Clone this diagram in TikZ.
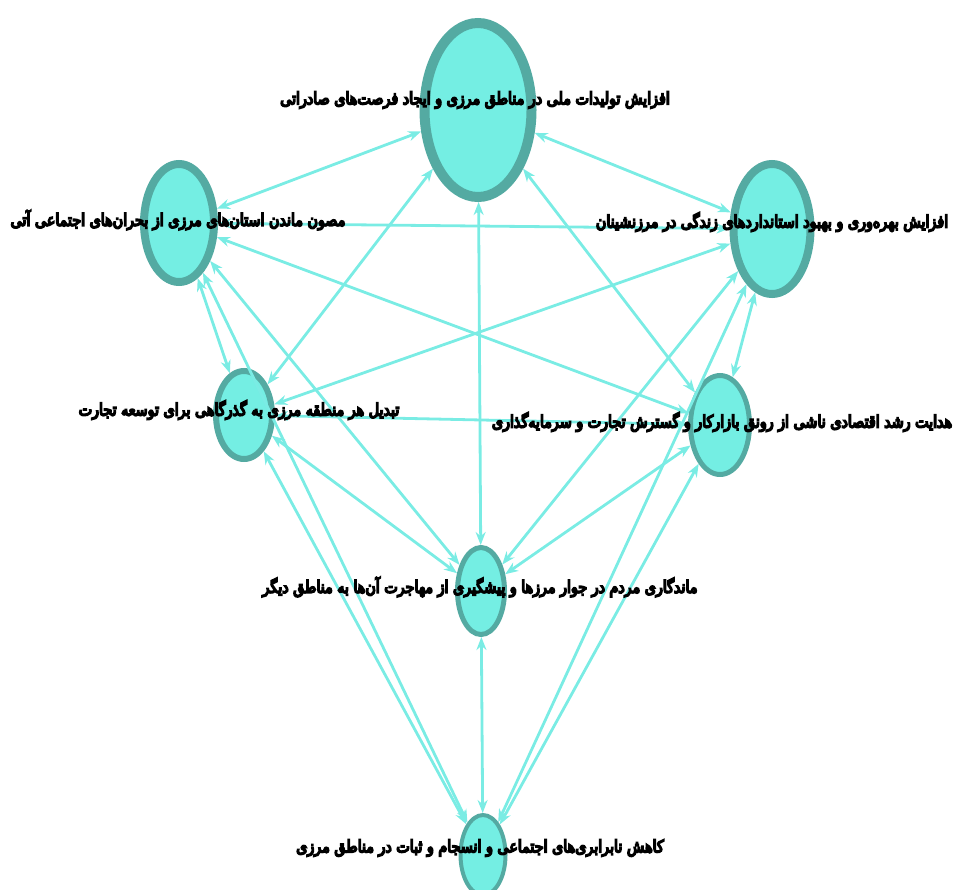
\documentclass[tikz,border=0pt]{standalone}
\usepackage{fontspec}
\usetikzlibrary{positioning,arrows.meta,shapes.geometric}
\TeXXeTstate=1
\newfontfamily\fafont[Script=Arabic, FakeBold=9, FakeStretch=0.84]{DejaVu Sans}
\definecolor{nodefill}{RGB}{116,238,227}
\definecolor{nodeline}{RGB}{84,170,162}
\definecolor{edgecol}{RGB}{122,236,228}
\tikzset{
  vtx/.style={ellipse, draw=nodeline, fill=nodefill, inner sep=0pt},
  lbl/.style={font=\fafont\fontsize{17}{19}\selectfont, inner sep=0pt, text=black},
  link/.style={draw=edgecol, line width=2.8pt, {Stealth[length=13pt,width=10pt]}-{Stealth[length=13pt,width=10pt]}}
}

\begin{document}
\begin{tikzpicture}[x=1pt, y=-1pt]
    \useasboundingbox (0,0) rectangle (957,889);
    % outcome nodes
    \node[vtx, line width=10pt, minimum width=107pt, minimum height=174pt] (a) at (478,110) {};
    \node[vtx, line width=8pt, minimum width=70pt, minimum height=118pt] (b) at (179,223) {};
    \node[vtx, line width=8pt, minimum width=77pt, minimum height=130pt] (c) at (772,229) {};
    \node[vtx, line width=6pt, minimum width=56pt, minimum height=88pt] (d) at (244,415) {};
    \node[vtx, line width=5pt, minimum width=59pt, minimum height=99pt] (e) at (720,425) {};
    \node[vtx, line width=5pt, minimum width=47pt, minimum height=87pt] (f) at (481,591) {};
    \node[vtx, line width=4pt, minimum width=45pt, minimum height=80pt] (g) at (483,855) {};
    % links
    \foreach \u/\v in {a/b,a/c,a/d,a/e,a/f,b/c,b/d,b/e,b/f,b/g,c/d,c/e,c/f,c/g,d/e,d/f,d/g,e/f,e/g,f/g} {
        \draw[link] (\u) -- (\v);
    }
    % labels
    \node[lbl] (la) at (475,100) {\beginR افزایش تولیدات ملی در مناطق مرزی و ایجاد فرصت‌های صادراتی\endR};
    \node[lbl] (lb) at (178,220) {\beginR مصون ماندن استان‌های مرزی از بحران‌های اجتماعی آتی\endR};
    \node[lbl] (lc) at (772,222) {\beginR افزایش بهره‌وری و بهبود استانداردهای زندگی در مرزنشینان\endR};
    \node[lbl] (ld) at (239,410) {\beginR تبدیل هر منطقه مرزی به گذرگاهی برای توسعه تجارت\endR};
    \node[lbl] (le) at (722,422) {\beginR هدایت رشد اقتصادی ناشی از رونق بازارکار و گسترش تجارت و سرمایه‌گذاری\endR};
    \node[lbl] (lf) at (480,587) {\beginR ماندگاری مردم در جوار مرزها و پیشگیری از مهاجرت آن‌ها به مناطق دیگر\endR};
    \node[lbl] (lg) at (480,848) {\beginR کاهش نابرابری‌های اجتماعی و انسجام و ثبات در مناطق مرزی\endR};
\end{tikzpicture}
\end{document}
